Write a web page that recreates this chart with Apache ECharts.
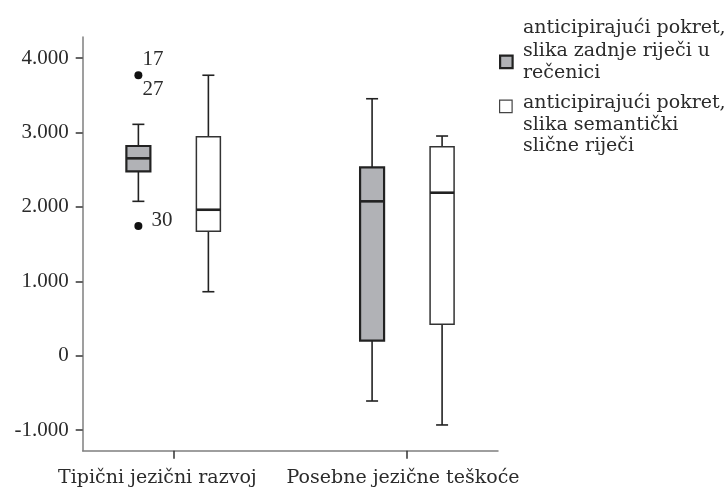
<!DOCTYPE html>
<html>
<head>
<meta charset="utf-8">
<script src="https://cdn.jsdelivr.net/npm/echarts@6/dist/echarts.min.js"></script>
<style>
html,body{margin:0;padding:0;background:#fff;}
#main{width:726px;height:491px;}
</style>
</head>
<body>
<div id="main"></div>
<script>
// ---- data ----
const categories = ['Tipični jezični razvoj', 'Posebne jezične teškoće'];
const seriesNames = [
  'anticipirajući pokret,\nslika zadnje riječi u\nrečenici',
  'anticipirajući pokret,\nslika semantički\nslične riječi'
];
// series 1: slika zadnje riječi u rečenici
const zadnjeMin    = [2075, -609];
const zadnjeQ1     = [2478, 202];
const zadnjeMedian = [2653, 2075];
const zadnjeQ3     = [2819, 2532];
const zadnjeMax    = [3110, 3454];
// series 2: slika semantički slične riječi
const semMin    = [860, -931];
const semQ1     = [1672, 422];
const semMedian = [1962, 2191];
const semQ3     = [2944, 2809];
const semMax    = [3770, 2953];
// outliers (series 1)
const outlierCategory = [0, 0];
const outlierValue    = [3770, 1743];
const outlierLabels   = [['17', '27'], ['30']];
// y tick labels
const yTicks = [-1000, 0, 1000, 2000, 3000, 4000];

// ---- build ----
const FONT = 'DejaVu Serif';
const NUMFONT = 'Liberation Serif';
const TXT = '#2b2b2b';
function fmt(v) {
  const s = Math.abs(v).toString().replace(/\B(?=(\d{3})+(?!\d))/g, '.');
  return (v < 0 ? '-' : '') + s;
}
function boxData(mn, q1, md, q3, mx) {
  return categories.map((c, i) => [i, mn[i], q1[i], md[i], q3[i], mx[i]]);
}
function boxRenderer(offset, fill, boxStroke, boxLW) {
  return function (params, api) {
    const cx = api.coord([api.value(0), 0])[0] + offset;
    const Y = v => api.coord([0, v])[1];
    const yMin = Y(api.value(1)), yQ1 = Y(api.value(2)), yMed = Y(api.value(3)),
          yQ3 = Y(api.value(4)), yMax = Y(api.value(5));
    const half = 12, cap = 6;
    const ws = { stroke: '#222', lineWidth: 1.6 };
    return {
      type: 'group',
      children: [
        { type: 'line', shape: { x1: cx, y1: yMax, x2: cx, y2: yQ3 }, style: ws },
        { type: 'line', shape: { x1: cx - cap, y1: yMax, x2: cx + cap, y2: yMax }, style: ws },
        { type: 'line', shape: { x1: cx, y1: yQ1, x2: cx, y2: yMin }, style: ws },
        { type: 'line', shape: { x1: cx - cap, y1: yMin, x2: cx + cap, y2: yMin }, style: ws },
        { type: 'rect', shape: { x: cx - half, y: yQ3, width: half * 2, height: yQ1 - yQ3 },
          style: { fill: fill, stroke: boxStroke, lineWidth: boxLW } },
        { type: 'line', shape: { x1: cx - half, y1: yMed, x2: cx + half, y2: yMed },
          style: { stroke: '#222', lineWidth: 2.6 } }
      ]
    };
  };
}
const outlierData = outlierCategory.map((c, i) => [c, outlierValue[i], i]);

const chart = echarts.init(document.getElementById('main'), null, { renderer: 'canvas' });
chart.setOption({
  animation: false,
  backgroundColor: '#fff',
  grid: { left: 82.7, right: 228, top: 37, bottom: 40.3 },
  xAxis: {
    type: 'value', min: -0.388, max: 1.389,
    splitLine: { show: false },
    axisLine: { show: true, onZero: false, lineStyle: { color: '#7f7f7f', width: 1.5 } },
    axisTick: { show: true, length: 8, customValues: [0, 1], lineStyle: { color: '#333', width: 1.5 } },
    axisLabel: {
      customValues: [0, 1], margin: 18,
      formatter: v => v === 0 ? '{a|' + categories[0] + '}' : '{b|' + categories[1] + '}',
      rich: {
        a: { fontFamily: FONT, fontSize: 19, color: TXT, padding: [0, 32, 0, 0] },
        b: { fontFamily: FONT, fontSize: 19, color: TXT, padding: [0, 8, 0, 0] }
      }
    }
  },
  yAxis: {
    type: 'value', min: -1277, max: 4284,
    splitLine: { show: false },
    axisLine: { show: true, onZero: false, lineStyle: { color: '#7f7f7f', width: 1.5 } },
    axisTick: { show: true, length: 7, customValues: yTicks, lineStyle: { color: '#333', width: 1.5 } },
    axisLabel: {
      customValues: yTicks, margin: 14, formatter: v => fmt(v),
      fontFamily: NUMFONT, fontSize: 21, color: TXT
    }
  },
  series: [
    {
      name: seriesNames[0], type: 'custom',
      renderItem: boxRenderer(-35, '#b1b2b6', '#222', 2.2),
      encode: { x: 0, y: [1, 2, 3, 4, 5] },
      data: boxData(zadnjeMin, zadnjeQ1, zadnjeMedian, zadnjeQ3, zadnjeMax)
    },
    {
      name: seriesNames[1], type: 'custom',
      renderItem: boxRenderer(35, '#ffffff', '#333', 1.5),
      encode: { x: 0, y: [1, 2, 3, 4, 5] },
      data: boxData(semMin, semQ1, semMedian, semQ3, semMax)
    },
    {
      name: 'outliers', type: 'custom',
      encode: { x: 0, y: 1 },
      data: outlierData,
      renderItem: function (params, api) {
        const p = api.coord([api.value(0), api.value(1)]);
        const cx = p[0] - 35, cy = p[1];
        const labs = outlierLabels[api.value(2)];
        const ts = { fontFamily: NUMFONT, fontSize: 21, fill: TXT, textVerticalAlign: 'middle' };
        const children = [{ type: 'circle', shape: { cx: cx, cy: cy, r: 4 }, style: { fill: '#111' } }];
        if (labs.length === 2) {
          children.push({ type: 'text', style: Object.assign({ x: cx + 4, y: cy - 16, text: labs[0] }, ts) });
          children.push({ type: 'text', style: Object.assign({ x: cx + 4, y: cy + 14, text: labs[1] }, ts) });
        } else {
          children.push({ type: 'text', style: Object.assign({ x: cx + 13, y: cy - 6, text: labs[0] }, ts) });
        }
        return { type: 'group', children: children };
      }
    }
  ],
  graphic: [
    { type: 'rect', left: 499, top: 54.5, shape: { width: 12.5, height: 12.5 },
      style: { fill: '#b1b2b6', stroke: '#222', lineWidth: 2.2 } },
    { type: 'text', left: 523, top: 17,
      style: { text: seriesNames[0], fontFamily: FONT, fontSize: 19, lineHeight: 22.5, fill: TXT } },
    { type: 'rect', left: 499, top: 99.5, shape: { width: 12.5, height: 12.5 },
      style: { fill: '#fff', stroke: '#444', lineWidth: 1.2 } },
    { type: 'text', left: 523, top: 92.5,
      style: { text: seriesNames[1], fontFamily: FONT, fontSize: 19, lineHeight: 21.5, fill: TXT } }
  ]
});
</script>
</body>
</html>
